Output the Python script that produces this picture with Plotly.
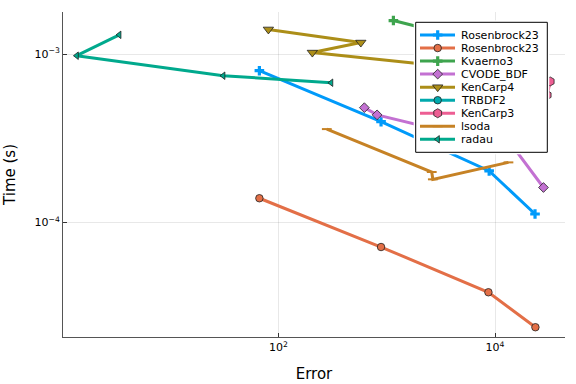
import plotly.graph_objects as go

# ---------------- data ----------------
names = ["Rosenbrock23", "Rosenbrock23", "Kvaerno3", "CVODE_BDF", "KenCarp4",
         "TRBDF2", "KenCarp3", "lsoda", "radau"]
colors = ["#009AFA", "#E36F47", "#3EA44E", "#C371D2", "#AC8E18",
          "#00A9AD", "#ED5E93", "#C68225", "#00A98D"]
symbols = ["cross", "circle", "cross", "diamond", "triangle-down",
           "circle", "hexagon", "line-ew", "triangle-left"]

ros_err = [66.8, 887, 8830, 23400]
ros_time = [7.96e-4, 3.96e-4, 2.02e-4, 1.12e-4]
ros2_err = [66.8, 887, 8690, 23600]
ros2_time = [1.39e-4, 7.13e-5, 3.84e-5, 2.38e-5]
kv_err = [1153, 5890, 21100]
kv_time = [1.58e-3, 1.21e-3, 9.87e-4]
cv_err = [622, 815, 15000, 28000]
cv_time = [4.80e-4, 4.35e-4, 2.76e-4, 1.61e-4]
kc4_err = [80.9, 577, 206, 7280, 21100]
kc4_time = [1.40e-3, 1.17e-3, 1.02e-3, 8.04e-4, 7.40e-4]
tr_err = [3110, 9020, 21100]
tr_time = [1.057e-3, 6.55e-4, 4.65e-4]
kc3_err = [5890, 15300, 32300, 30300]
kc3_time = [9.87e-4, 8.04e-4, 6.87e-4, 5.70e-4]
ls_err = [280, 2606, 2667, 13300]
ls_time = [3.58e-4, 1.99e-4, 1.80e-4, 2.27e-4]
ra_err = [3.40, 1.375, 31.0, 307]
ra_time = [1.30e-3, 9.77e-4, 7.43e-4, 6.75e-4]

errs = [ros_err, ros2_err, kv_err, cv_err, kc4_err, tr_err, kc3_err, ls_err, ra_err]
times = [ros_time, ros2_time, kv_time, cv_time, kc4_time, tr_time, kc3_time, ls_time, ra_time]

x_tickvals = [1e2, 1e4]
x_ticktext = ["10<sup>2</sup>", "10<sup>4</sup>"]
y_tickvals = [1e-4, 1e-3]
y_ticktext = ["10<sup>\u22124</sup>", "10<sup>\u22123</sup>"]

# ---------------- styles ----------------
msizes = [8, 7.5, 8, 7.5, 9, 7.5, 9, 7, 6.5]

def marker_style(i):
    s = symbols[i]
    if s == "line-ew":
        return dict(symbol=s, size=msizes[i], color=colors[i],
                    line=dict(color=colors[i], width=2))
    if s == "cross":
        return dict(symbol=s, size=msizes[i], color=colors[i],
                    line=dict(color=colors[i], width=0))
    return dict(symbol=s, size=msizes[i], color=colors[i],
                line=dict(color="#222222", width=0.8))

fig = go.Figure()
for i in range(len(names)):
    fig.add_trace(go.Scatter(
        x=errs[i], y=times[i], mode="lines+markers", name=names[i],
        line=dict(color=colors[i], width=3),
        marker=marker_style(i), showlegend=False,
        xaxis="x", yaxis="y"))

# ---------------- custom legend (drawn in its own small subplot) ----------------
W, H = 131.6, 130.0
fig.add_trace(go.Scatter(
    x=[0, W, W, 0, 0], y=[0, 0, H, H, 0], mode="lines", fill="toself",
    fillcolor="white", line=dict(color="black", width=1),
    showlegend=False, hoverinfo="skip", xaxis="x2", yaxis="y2"))
row0, dy = 12.7, 13.04
for i, nm in enumerate(names):
    yy = row0 + i * dy
    fig.add_trace(go.Scatter(
        x=[4.3, 39.3], y=[yy, yy], mode="lines",
        line=dict(color=colors[i], width=3), showlegend=False,
        hoverinfo="skip", xaxis="x2", yaxis="y2"))
    fig.add_trace(go.Scatter(
        x=[22], y=[yy], mode="markers", marker=marker_style(i),
        showlegend=False, hoverinfo="skip", xaxis="x2", yaxis="y2"))
    fig.add_annotation(x=43.6, y=yy, xref="x2", yref="y2", text=nm,
                       showarrow=False, xanchor="left", yanchor="middle",
                       font=dict(size=11, color="black", family="DejaVu Sans"))

axis_common = dict(showline=True, linecolor="#555555", linewidth=1,
                   ticks="inside", ticklen=4, tickcolor="#333333",
                   gridcolor="rgba(0,0,0,0.09)", gridwidth=1, zeroline=False,
                   mirror=False, automargin=False,
                   tickfont=dict(size=11, color="black", family="DejaVu Sans"))

fig.update_layout(
    width=576, height=384,
    margin=dict(l=63, r=11, t=12, b=47),
    paper_bgcolor="white", plot_bgcolor="white",
    font=dict(family="DejaVu Sans", color="black"),
    xaxis=dict(type="log", range=[0.012, 4.646], tickvals=x_tickvals,
               ticktext=x_ticktext, title=dict(text="Error", font=dict(size=15)),
               **axis_common),
    yaxis=dict(type="log", range=[-4.6815, -2.7504], tickvals=y_tickvals,
               ticktext=y_ticktext, title=dict(text="Time (s)", font=dict(size=15)),
               **axis_common),
    xaxis2=dict(domain=[350.7 / 502, 486.3 / 502], range=[-2, W + 2],
                visible=False, anchor="y2", fixedrange=True, automargin=False),
    yaxis2=dict(domain=[(337 - 154.3) / 325, (337 - 20.3) / 325],
                range=[H + 2, -2], visible=False, anchor="x2", fixedrange=True,
                automargin=False),
    showlegend=False,
)

fig.write_html("out.html",
               config={"displayModeBar": False},
               post_script="document.body.style.margin='0px';"
                           "document.body.style.padding='0px';")
